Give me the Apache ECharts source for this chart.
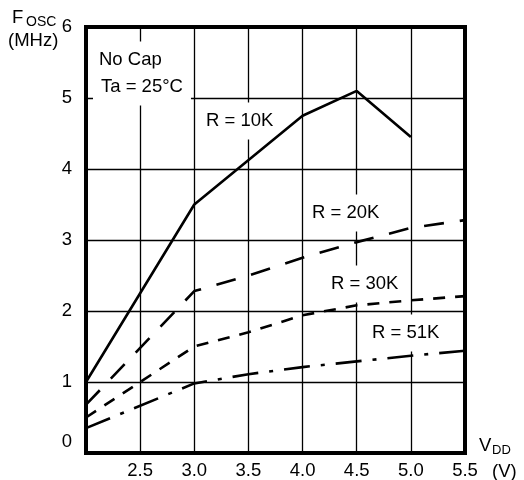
<!DOCTYPE html>
<html>
<head>
<meta charset="utf-8">
<script src="https://cdn.jsdelivr.net/npm/echarts@6/dist/echarts.min.js"></script>
<style>
  html, body { margin: 0; padding: 0; background: #fff; }
  #chart { width: 524px; height: 480px; }
</style>
</head>
<body>
<div id="chart"></div>
<script>
// Oscillator frequency (MHz) versus supply voltage VDD (V), one curve per resistor
const r10kV = [2.0, 3.0, 4.0, 4.5, 5.0];
const r10kF = [1.0, 3.5, 4.75, 5.1, 4.45];

const r20kV = [2.0, 3.0, 3.5, 4.0, 4.5, 5.0, 5.5];
const r20kF = [0.68, 2.28, 2.5, 2.75, 2.97, 3.17, 3.28];

const r30kV = [2.0, 3.0, 3.5, 4.0, 4.5, 5.0, 5.5];
const r30kF = [0.5, 1.5, 1.7, 1.94, 2.08, 2.15, 2.21];

const r51kV = [2.0, 3.0, 3.5, 4.0, 4.5, 5.0, 5.5];
const r51kF = [0.35, 0.98, 1.11, 1.21, 1.29, 1.37, 1.44];

// Axis tick labels
const xTicks = [2.5, 3.0, 3.5, 4.0, 4.5, 5.0, 5.5];
const yTicks = [0, 1, 2, 3, 4, 5, 6];

const FONT = '"Liberation Sans", Arial, sans-serif';
const FS = 18.5;

function pairs(xs, ys) {
  return xs.map((x, i) => [x, ys[i]]);
}

function curve(name, xs, ys, dash) {
  return {
    name: name,
    type: 'line',
    data: pairs(xs, ys),
    symbol: 'none',
    smooth: false,
    z: 3,
    lineStyle: { color: '#000', width: 2.6, type: dash, cap: 'butt' }
  };
}

// Boxed annotation text that knocks out the grid lines behind it
// (sits above the split lines, below the curves)
function note(text, left, cy) {
  return {
    type: 'text',
    x: left - 8,
    y: cy,
    z: 1,
    style: {
      text: text,
      font: FS + 'px ' + FONT,
      fill: '#000',
      backgroundColor: '#fff',
      padding: [9, 8],
      align: 'left',
      verticalAlign: 'middle'
    }
  };
}

function plainText(text, x, y, size) {
  return {
    type: 'text',
    x: x,
    y: y,
    z: 50,
    style: {
      text: text,
      font: size + 'px ' + FONT,
      fill: '#000',
      align: 'left',
      verticalAlign: 'top'
    }
  };
}

const chart = echarts.init(document.getElementById('chart'), null, { renderer: 'canvas' });

chart.setOption({
  animation: false,
  backgroundColor: '#fff',
  grid: {
    left: 86, top: 27, right: 59, bottom: 27,
    show: true,
    borderColor: '#000',
    borderWidth: 4,
    backgroundColor: 'transparent'
  },
  xAxis: {
    type: 'value',
    min: 2, max: 5.5, interval: 0.5,
    axisLine: { show: false },
    axisTick: { show: false },
    splitLine: { show: true, lineStyle: { color: '#000', width: 1.3 } },
    axisLabel: {
      customValues: xTicks,
      formatter: v => v.toFixed(1),
      color: '#000',
      fontFamily: FONT,
      fontSize: FS,
      margin: 8
    }
  },
  yAxis: {
    type: 'value',
    min: 0, max: 6, interval: 1,
    axisLine: { show: false },
    axisTick: { show: false },
    splitLine: { show: true, lineStyle: { color: '#000', width: 1.3 } },
    axisLabel: {
      customValues: yTicks,
      formatter: v => (v === 0 ? '{z|0}' : String(v)),
      color: '#000',
      fontFamily: FONT,
      fontSize: FS,
      margin: 14,
      rich: {
        z: { fontFamily: FONT, fontSize: FS, color: '#000', padding: [0, 0, 22, 0] }
      }
    }
  },
  series: [
    curve('R = 10K', r10kV, r10kF, 'solid'),
    curve('R = 20K', r20kV, r20kF, [20, 16]),
    curve('R = 30K', r30kV, r30kF, [12, 10]),
    curve('R = 51K', r51kV, r51kF, [26, 11, 4, 11])
  ],
  graphic: {
    elements: [
      note('No Cap', 99, 60),
      note('Ta = 25\u00B0C', 101, 87),
      note('R = 10K', 206, 121),
      note('R = 20K', 312, 213),
      note('R = 30K', 331, 284),
      note('R = 51K', 372, 333),
      plainText('F', 12, 8, FS),
      plainText('OSC', 26, 15, 14),
      plainText('(MHz)', 8, 31, FS),
      plainText('V', 479, 436, FS),
      plainText('DD', 492, 444, 13),
      plainText('(V)', 492, 462, FS)
    ]
  }
});
</script>
</body>
</html>
